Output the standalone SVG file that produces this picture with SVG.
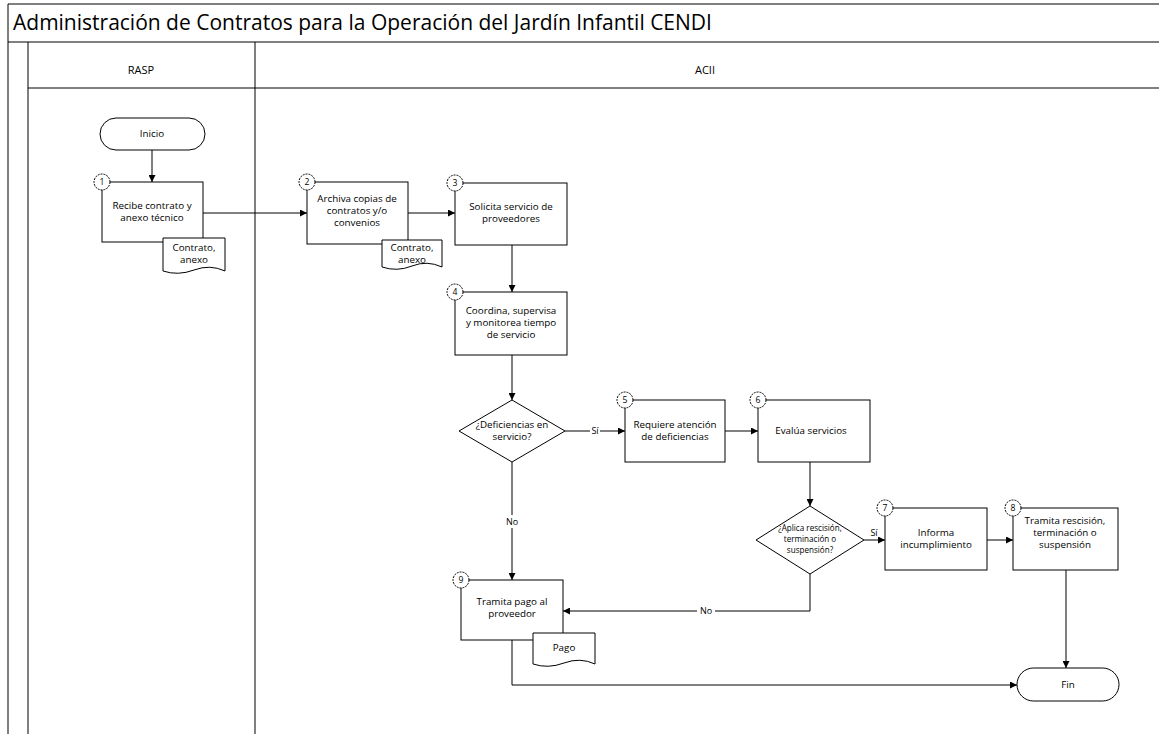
<svg xmlns="http://www.w3.org/2000/svg" width="1159" height="734" viewBox="0 0 1159 734">
<defs>
<marker id="arr" viewBox="0 0 10 10" refX="10" refY="5" markerWidth="7" markerHeight="7" orient="auto" markerUnits="userSpaceOnUse">
<path d="M0,0 L10,5 L0,10 z" fill="#000"/>
</marker>
<style>
.frame{fill:none;stroke:#000;stroke-width:1}
.node{fill:#fff;stroke:#000;stroke-width:1}
.num{fill:#fff;stroke:#000;stroke-width:1;stroke-dasharray:2 1}
.t{font-family:"Open Sans","Liberation Sans",sans-serif;font-size:9.8px;fill:#000;text-anchor:middle}
.s{font-family:"Open Sans","Liberation Sans",sans-serif;font-size:8.6px;fill:#000;text-anchor:middle}
.d{font-family:"Open Sans","Liberation Sans",sans-serif;font-size:8.1px;fill:#000;text-anchor:middle}
.lbl{font-family:"Open Sans","Liberation Sans",sans-serif;font-size:9px;fill:#000;text-anchor:middle}
.hdr{font-family:"Open Sans","Liberation Sans",sans-serif;font-size:11px;fill:#000;text-anchor:middle}
.title{font-family:"Open Sans","Liberation Sans",sans-serif;font-size:21px;fill:#000}
.c{fill:none;stroke:#000;stroke-width:1;marker-end:url(#arr)}
</style>
</defs>
<rect width="1159" height="734" fill="#fff"/>
<g id="pool">
<path class="frame" d="M8,4 H1159 M8,4 V734 M8,42 H1159 M28,42 V734 M255,42 V734 M28,88 H1159"/>
<text class="title" x="13" y="30">Administración de Contratos para la Operación del Jardín Infantil CENDI</text>
<text class="hdr" x="141" y="74">RASP</text>
<text class="hdr" x="705" y="74">ACII</text>
</g>
<g id="connectors">
<path class="c" d="M152,150 V182"/>
<path class="c" d="M203,213 H307"/>
<path class="c" d="M408,213 H455"/>
<path class="c" d="M512,245 V292"/>
<path class="c" d="M512,355 V400"/>
<path class="c" d="M565,431 H625"/>
<rect x="590" y="424" width="10" height="13" fill="#fff"/>
<text class="lbl" x="595" y="434">Sí</text>
<path class="c" d="M725,431 H758"/>
<path class="c" d="M810,462 V506"/>
<path class="c" d="M864,540 H885"/>
<text class="lbl" x="874" y="536">Sí</text>
<path class="c" d="M987,540 H1013"/>
<path class="c" d="M1066,570 V668"/>
<path class="c" d="M512,462 V580"/>
<rect x="503" y="515" width="18" height="13" fill="#fff"/>
<text class="lbl" x="512" y="525">No</text>
<path class="c" d="M810,574 V611 H563"/>
<rect x="697" y="605" width="18" height="13" fill="#fff"/>
<text class="lbl" x="706" y="614">No</text>
<path class="c" d="M512,640 V685 H1017"/>
</g>
<g id="inicio">
<rect class="node" x="100" y="118" width="105" height="32" rx="16"/>
<text class="t" x="152" y="137">Inicio</text>
</g>
<g id="paso1">
<rect class="node" x="102" y="182" width="101" height="60"/>
<text class="t" x="152" y="209">Recibe contrato y</text>
<text class="t" x="152" y="221">anexo técnico</text>
<path class="node" d="M163,238 H225 V271 Q210,264 194,270 T163,271 Z"/>
<text class="t" x="194" y="251">Contrato,</text>
<text class="t" x="194" y="263">anexo</text>
<circle class="num" cx="102" cy="182" r="8"/>
<text class="s" x="102" y="185">1</text>
</g>
<g id="paso2">
<rect class="node" x="307" y="182" width="101" height="62"/>
<text class="t" x="357" y="202">Archiva copias de</text>
<text class="t" x="357" y="214">contratos y/o</text>
<text class="t" x="357" y="226">convenios</text>
<path class="node" d="M382,240 H442 V267 Q427,260 412,266 T382,267 Z"/>
<text class="t" x="412" y="251">Contrato,</text>
<text class="t" x="412" y="263">anexo</text>
<circle class="num" cx="307" cy="182" r="8"/>
<text class="s" x="307" y="185">2</text>
</g>
<g id="paso3">
<rect class="node" x="455" y="183" width="112" height="62"/>
<text class="t" x="511" y="210">Solicita servicio de</text>
<text class="t" x="511" y="222">proveedores</text>
<circle class="num" cx="455" cy="183" r="8"/>
<text class="s" x="455" y="186">3</text>
</g>
<g id="paso4">
<rect class="node" x="455" y="292" width="112" height="63"/>
<text class="t" x="511" y="314">Coordina, supervisa</text>
<text class="t" x="511" y="326">y monitorea tiempo</text>
<text class="t" x="511" y="338">de servicio</text>
<circle class="num" cx="455" cy="292" r="8"/>
<text class="s" x="455" y="295">4</text>
</g>
<g id="decision1">
<path class="node" d="M512,400 L565,431 L512,462 L459,431 Z"/>
<text class="t" x="512" y="428">¿Deficiencias en</text>
<text class="t" x="512" y="440">servicio?</text>
</g>
<g id="paso5">
<rect class="node" x="625" y="400" width="100" height="62"/>
<text class="t" x="675" y="428">Requiere atención</text>
<text class="t" x="675" y="440">de deficiencias</text>
<circle class="num" cx="625" cy="400" r="8"/>
<text class="s" x="625" y="403">5</text>
</g>
<g id="paso6">
<rect class="node" x="758" y="400" width="112" height="62"/>
<text class="t" x="811" y="434">Evalúa servicios</text>
<circle class="num" cx="758" cy="400" r="8"/>
<text class="s" x="758" y="403">6</text>
</g>
<g id="decision2">
<path class="node" d="M810,506 L864,540 L810,574 L756,540 Z"/>
<text class="d" x="810" y="531">¿Aplica rescisión,</text>
<text class="d" x="810" y="542">terminación o</text>
<text class="d" x="810" y="553">suspensión?</text>
</g>
<g id="paso7">
<rect class="node" x="885" y="508" width="102" height="62"/>
<text class="t" x="936" y="536">Informa</text>
<text class="t" x="936" y="548">incumplimiento</text>
<circle class="num" cx="885" cy="508" r="8"/>
<text class="s" x="885" y="511">7</text>
</g>
<g id="paso8">
<rect class="node" x="1013" y="508" width="105" height="62"/>
<text class="t" x="1065" y="524">Tramita rescisión,</text>
<text class="t" x="1065" y="536">terminación o</text>
<text class="t" x="1065" y="548">suspensión</text>
<circle class="num" cx="1013" cy="508" r="8"/>
<text class="s" x="1013" y="511">8</text>
</g>
<g id="paso9">
<rect class="node" x="461" y="580" width="102" height="60"/>
<text class="t" x="512" y="605">Tramita pago al</text>
<text class="t" x="512" y="617">proveedor</text>
<path class="node" d="M533,633 H595 V664 Q580,657 564,663 T533,664 Z"/>
<text class="t" x="564" y="651">Pago</text>
<circle class="num" cx="461" cy="580" r="8"/>
<text class="s" x="461" y="583">9</text>
</g>
<g id="fin">
<rect class="node" x="1017" y="668" width="102" height="33" rx="16.5"/>
<text class="t" x="1068" y="688">Fin</text>
</g>
</svg>
